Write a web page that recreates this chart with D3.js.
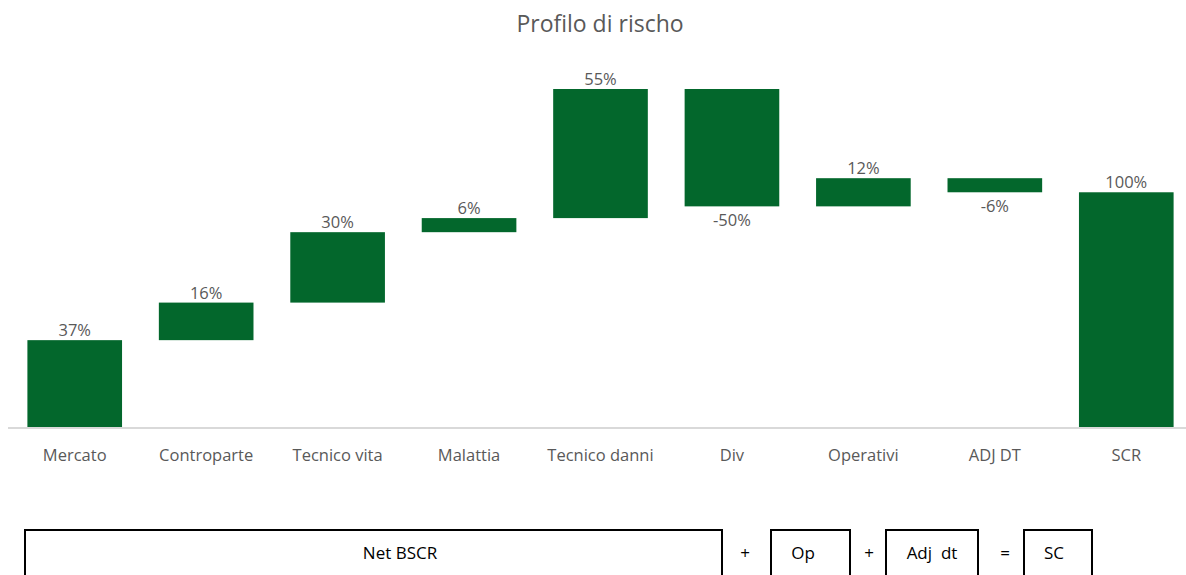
<!DOCTYPE html>
<html>
<head>
<meta charset="utf-8">
<script src="https://cdn.jsdelivr.net/npm/d3@7"></script>
<style>
  body { margin: 0; background: #fff; }
  text { font-family: "Open Sans", sans-serif; }
</style>
</head>
<body>
<div id="chart"></div>
<script>
var categories = ["Mercato", "Controparte", "Tecnico vita", "Malattia", "Tecnico danni", "Div", "Operativi", "ADJ DT", "SCR"];
var values = [37, 16, 30, 6, 55, -50, 12, -6, 100];
var isTotal = [false, false, false, false, false, false, false, false, true];

var formulaParts = ["Net BSCR", "+", "Op", "+", "Adj  dt", "=", "SC"];
var formulaBoxes = [[25, 722], null, [771, 850], null, [886, 978], null, [1024, 1092]];
var formulaTextX = [400, 745, 803, 869, 932, 1005, 1054];

var W = 1186, H = 575;
var svg = d3.select("#chart").append("svg")
    .attr("width", W)
    .attr("height", H);

// running totals for the waterfall
var steps = [];
var run = 0;
categories.forEach(function(c, i) {
    var start, end;
    if (isTotal[i]) { start = 0; end = values[i]; run = values[i]; }
    else { start = run; end = run + values[i]; run = end; }
    steps.push({cat: c, v: values[i], start: start, end: end});
});

var x = d3.scaleBand().domain(categories).range([9, 1192]).paddingInner(0.28).paddingOuter(0.14);
var y = d3.scaleLinear().domain([0, 144]).range([427, 89]);

var green = "#03672c";

svg.append("text")
    .attr("x", 600).attr("y", 32)
    .attr("text-anchor", "middle")
    .attr("font-size", 23)
    .attr("fill", "#595959")
    .text("Profilo di rischo");

svg.selectAll(".bar")
    .data(steps)
    .enter().append("rect")
    .attr("class", "bar")
    .attr("x", function(d) { return x(d.cat); })
    .attr("width", x.bandwidth())
    .attr("y", function(d) { return y(Math.max(d.start, d.end)); })
    .attr("height", function(d) { return Math.abs(y(d.start) - y(d.end)); })
    .attr("fill", green);

// baseline
svg.append("line")
    .attr("x1", 8).attr("x2", 1186)
    .attr("y1", y(0) + 1).attr("y2", y(0) + 1)
    .attr("stroke", "#d9d9d9")
    .attr("stroke-width", 2);

svg.selectAll(".lab")
    .data(steps)
    .enter().append("text")
    .attr("class", "lab")
    .attr("x", function(d) { return x(d.cat) + x.bandwidth() / 2; })
    .attr("y", function(d) {
        return d.v >= 0 ? y(Math.max(d.start, d.end)) - 4 : y(Math.min(d.start, d.end)) + 20;
    })
    .attr("text-anchor", "middle")
    .attr("font-size", 16.5)
    .attr("fill", "#595959")
    .text(function(d) { return d.v + "%"; });

svg.selectAll(".cat")
    .data(categories)
    .enter().append("text")
    .attr("class", "cat")
    .attr("x", function(d) { return x(d) + x.bandwidth() / 2; })
    .attr("y", 461)
    .attr("text-anchor", "middle")
    .attr("font-size", 16.5)
    .attr("fill", "#595959")
    .text(function(d) { return d; });

// formula row
formulaParts.forEach(function(p, i) {
    var b = formulaBoxes[i];
    if (b) {
        svg.append("rect")
            .attr("x", b[0]).attr("y", 530)
            .attr("width", b[1] - b[0]).attr("height", 60)
            .attr("fill", "none")
            .attr("stroke", "#000")
            .attr("stroke-width", 2);
    }
    svg.append("text")
        .attr("x", formulaTextX[i]).attr("y", 559)
        .attr("text-anchor", "middle")
        .attr("font-size", 17)
        .attr("fill", "#000")
        .style("white-space", "pre")
        .text(p);
});
</script>
</body>
</html>
